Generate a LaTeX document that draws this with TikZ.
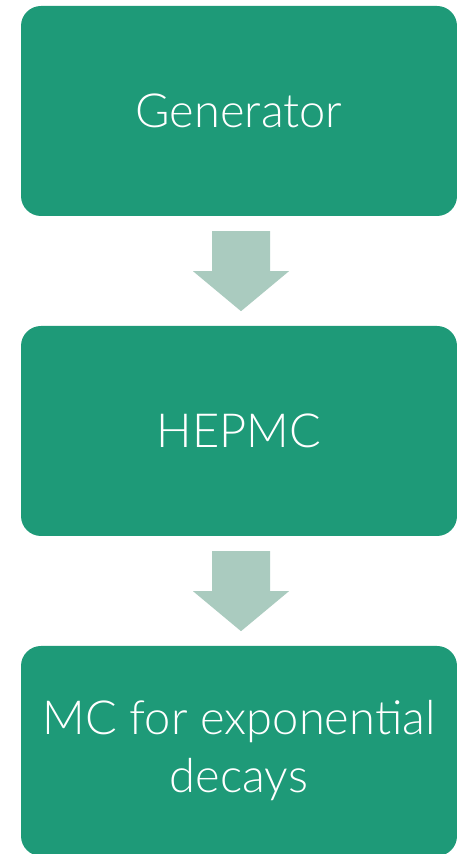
\documentclass[tikz,border=0pt]{standalone}
\usepackage{fontspec}
\setmainfont{Lato}[UprightFont=* Light]
\usetikzlibrary{calc}
\definecolor{stepgreen}{HTML}{1E9A78}
\definecolor{flowarrow}{HTML}{AACBBF}
\begin{document}
\begin{tikzpicture}[x=1pt,y=1pt,
  stepbox/.style={fill=stepgreen, draw=none, rounded corners=20pt,
    minimum width=436pt, minimum height=210pt, inner sep=0pt,
    text=white, align=center, font=\fontsize{47}{58}\selectfont},
  flow/.style={fill=flowarrow, draw=none}]
  \useasboundingbox (0,0) rectangle (456,854);
  % the three stages
  \node[stepbox] (gen) at (239,743) {Generator};
  \node[stepbox] (hep) at (239,423) {HEPMC};
  \node[stepbox] (mc)  at (239,103) {MC for exponential\\decays};
  % block arrows between the stages
  \foreach \a/\b in {gen/hep, hep/mc}{
    \fill[flow] ($(\a.south)+(-27,-15)$) -- ++(58,0) -- ++(0,-40) -- ++(19,0)
      -- ++(-48,-40) -- ++(-48,40) -- ++(19,0) -- cycle;
  }
\end{tikzpicture}
\end{document}
